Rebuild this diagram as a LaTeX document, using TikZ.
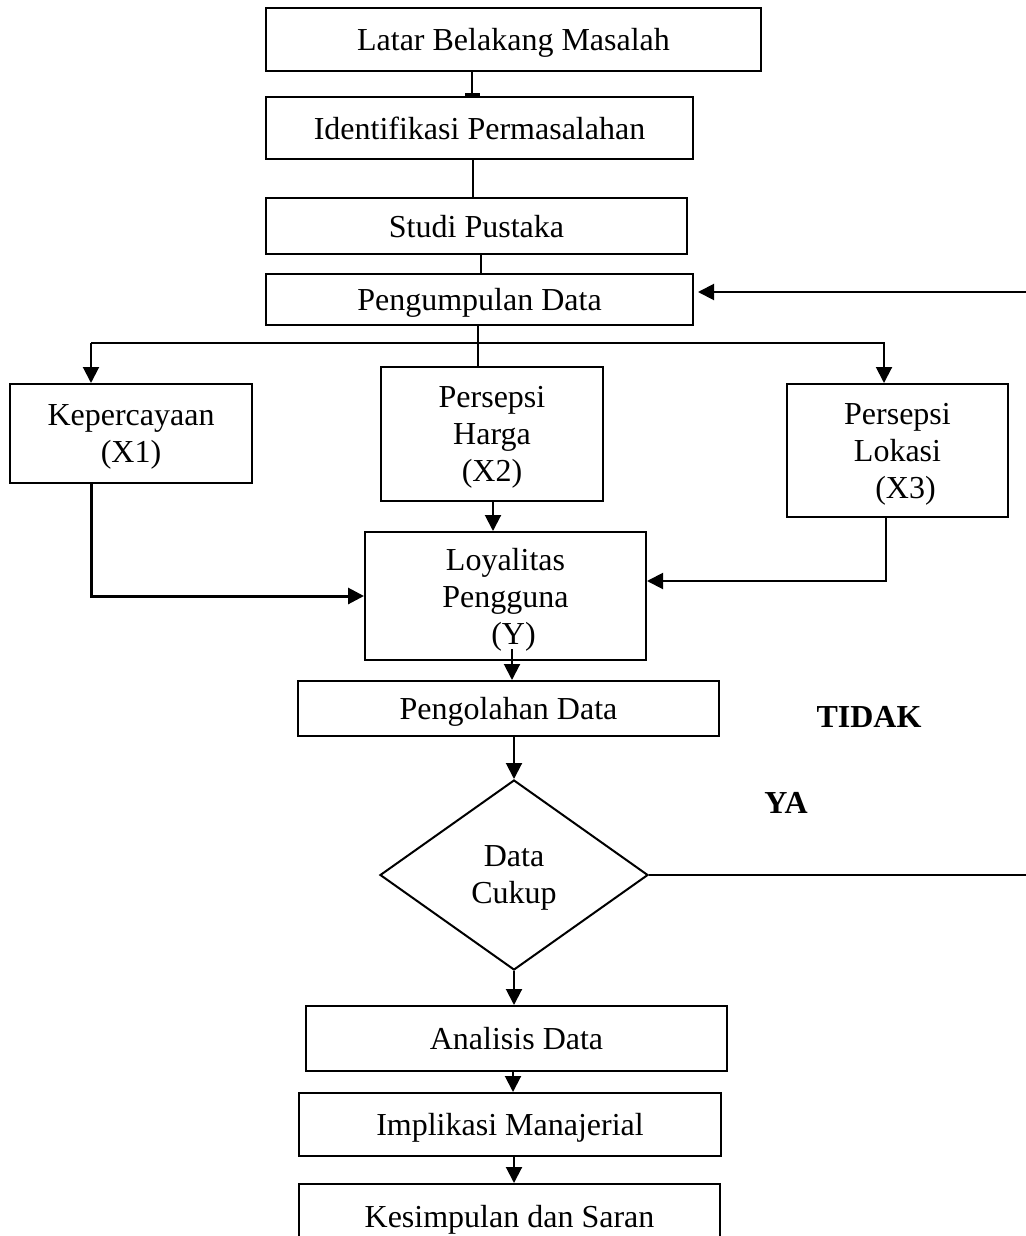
\documentclass[tikz,border=0pt]{standalone}
\usepackage{fontspec}
\setmainfont{Liberation Serif}
\usetikzlibrary{arrows.meta,shapes.geometric}
\begin{document}
\begin{tikzpicture}[x=0.5pt,y=-0.5pt,line width=1pt,
  font=\fontsize{16}{18.5}\selectfont,
  kotak/.style={draw,rectangle,inner sep=0pt,align=center,text depth=0pt},
  panah/.style={-{Triangle[length=8pt,width=8pt]}},
  tebal/.style={font=\fontsize{16}{18.5}\selectfont\bfseries}]
\useasboundingbox (0,0) rectangle (1026,1236);
\clip (0,0) rectangle (1026,1236);

% alur atas
\node[kotak,minimum width=247.5pt,minimum height=31.5pt] (latar) at (513.5,39.5) {Latar Belakang Masalah};
\node[kotak,minimum width=213.5pt,minimum height=31pt] (identifikasi) at (479.5,128) {Identifikasi Permasalahan};
\node[kotak,minimum width=210.5pt,minimum height=28pt] (studi) at (476.5,226) {Studi Pustaka};
\node[kotak,minimum width=213.5pt,minimum height=25.5pt] (kumpul) at (479.5,299.5) {Pengumpulan Data};

% variabel
\node[kotak,minimum width=121pt,minimum height=49.5pt] (x1) at (131,433.5) {Kepercayaan\\(X1)};
\node[kotak,minimum width=111pt,minimum height=67pt] (x2) at (492,434) {Persepsi\\Harga\\(X2)};
\node[kotak,minimum width=110.5pt,minimum height=66.5pt] (x3) at (897.5,450.5) {Persepsi\\Lokasi\\\ \ (X3)};
\node[kotak,minimum width=140.5pt,minimum height=64pt] (loyal) at (505.5,596) {Loyalitas\\Pengguna\\\ \ (Y)};

% alur bawah
\node[kotak,minimum width=210.5pt,minimum height=27.5pt] (olah) at (508.5,708.5) {Pengolahan Data};
\node[draw,diamond,inner sep=0pt,minimum width=134pt,minimum height=95pt,align=center,text depth=0pt] (cukup) at (514,875) {Data\\Cukup};
\node[kotak,minimum width=210.5pt,minimum height=32.5pt] (analisis) at (516.5,1038.5) {Analisis Data};
\node[kotak,minimum width=211pt,minimum height=31.5pt] (implikasi) at (510,1124.5) {Implikasi Manajerial};
\node[kotak,minimum width=210.5pt,minimum height=32pt] (simpulan) at (509.5,1216) {Kesimpulan dan Saran};

\node[tebal] (tidak) at (869,717) {TIDAK};
\node[tebal] (ya) at (786,803) {YA};

\coordinate (bus) at (478,343);
\coordinate (balik) at (1060,292);

\draw[-{Bar[width=7.5pt,line width=1.5pt]}] (latar.south -| 472,0) -- (identifikasi.north -| 472,0);
\draw (identifikasi.south -| 473,0) -- (studi.north -| 473,0);
\draw (studi.south -| 481,0) -- (kumpul.north -| 481,0);
\draw (kumpul.south -| bus) -- (x2.north -| bus);
\draw[panah] (bus -| 91,0) -- (bus -| 884,0) -- (x3.north -| 884,0);
\draw[panah] (bus -| 91,0) -- (x1.north -| 91,0);
\draw[panah] (x2.south -| 493,0) -- (loyal.north -| 493,0);
\draw[panah,line width=1.5pt] (x1.south -| 91,0) |- (loyal.west |- 0,596);
\draw[panah] (x3.south -| 886,0) |- (loyal.east |- 0,581);
\draw[panah] ([yshift=6pt]loyal.south -| 512,0) -- (olah.north -| 512,0);
\draw[panah] (olah.south -| cukup.north) -- (cukup.north);
\draw[panah] (cukup.south) -- (analisis.north -| cukup.south);
\draw[panah] (analisis.south -| 513,0) -- (implikasi.north -| 513,0);
\draw[panah] (implikasi.south -| 514,0) -- (simpulan.north -| 514,0);
\draw[panah,shorten >=2pt] (cukup.east) -| (balik) -- (kumpul.east |- balik); % kembali ke pengumpulan data
\end{tikzpicture}
\end{document}
